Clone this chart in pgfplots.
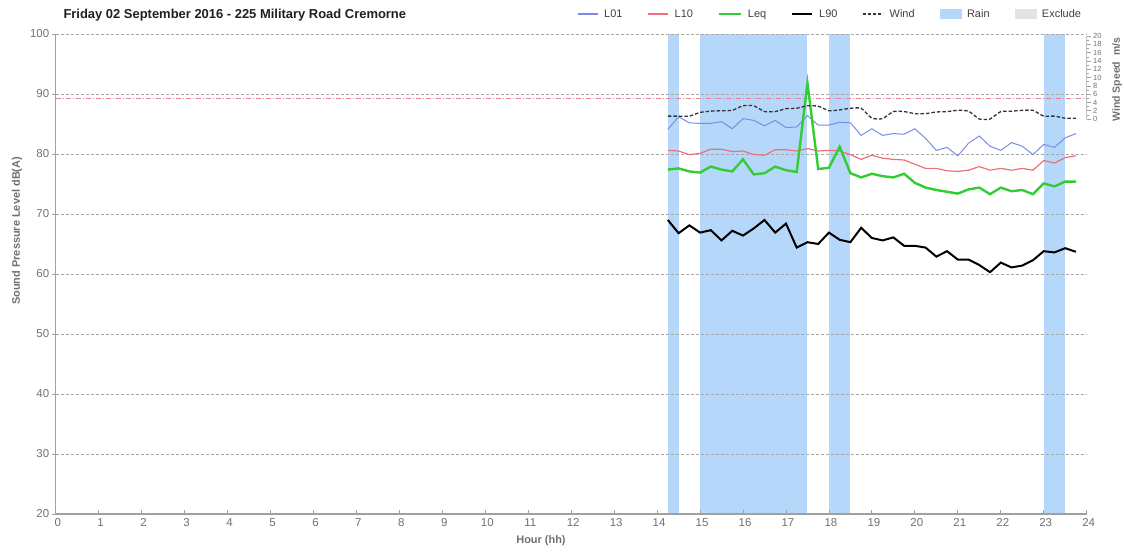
\documentclass[border=0pt]{standalone}
\usepackage{fontspec}
\setmainfont{Liberation Sans}
\usepackage{pgfplots}
\usepackage{pgfplotstable}
\pgfplotsset{compat=1.18}

\definecolor{cL01}{HTML}{7A8CE8}
\definecolor{cL10}{HTML}{EE6F7C}
\definecolor{cLeq}{HTML}{33CC33}
\definecolor{cWind}{HTML}{333333}
\definecolor{rain}{HTML}{B5D8FA}
\definecolor{excl}{HTML}{E3E3E3}
\definecolor{axgray}{HTML}{A0A0A0}
\definecolor{gridgray}{HTML}{A8A8A8}
\definecolor{lblgray}{HTML}{707070}
\definecolor{crit}{HTML}{E88090}

\pgfplotstableread{
t L01 L10 Leq L90 Wind
14.25 84.1 80.6 77.4 69.0 0.7
14.50 86.2 80.5 77.6 66.8 0.7
14.75 85.2 79.9 77.1 68.1 0.7
15.00 85.1 80.1 76.9 66.9 1.6
15.25 85.1 80.8 77.9 67.3 1.9
15.50 85.4 80.8 77.4 65.6 2.0
15.75 84.2 80.4 77.1 67.2 2.1
16.00 85.9 80.5 79.1 66.4 3.2
16.25 85.6 79.9 76.6 67.6 3.2
16.50 84.7 79.8 76.8 69.0 1.8
16.75 85.6 80.7 77.9 66.9 1.8
17.00 84.4 80.7 77.3 68.4 2.5
17.25 84.5 80.5 77.0 64.4 2.6
17.50 86.4 80.9 91.8 65.3 3.2
17.75 84.8 80.5 77.5 65.0 3.1
18.00 84.8 80.6 77.7 66.9 2.0
18.25 85.3 80.5 81.2 65.7 2.2
18.50 85.2 79.9 76.8 65.3 2.6
18.75 83.1 79.1 76.1 67.7 2.6
19.00 84.2 79.8 76.7 66.0 0.2
19.25 83.1 79.3 76.3 65.6 0.1
19.50 83.4 79.1 76.1 66.1 1.8
19.75 83.3 79.0 76.7 64.7 1.8
20.00 84.2 78.3 75.2 64.7 1.3
20.25 82.6 77.6 74.4 64.4 1.3
20.50 80.6 77.6 74.0 62.9 1.7
20.75 81.1 77.2 73.7 63.8 1.8
21.00 79.7 77.1 73.4 62.4 2.1
21.25 81.8 77.3 74.1 62.4 1.9
21.50 83.0 77.9 74.4 61.5 0.0
21.75 81.3 77.3 73.3 60.3 0.0
22.00 80.6 77.6 74.4 61.9 1.8
22.25 81.9 77.3 73.8 61.1 1.9
22.50 81.3 77.6 74.0 61.4 2.1
22.75 79.9 77.3 73.3 62.3 2.1
23.00 81.6 78.9 75.1 63.8 0.7
23.25 81.1 78.5 74.6 63.6 0.7
23.50 82.7 79.4 75.4 64.3 0.2
23.75 83.4 79.7 75.4 63.7 0.2
}\noisedata

\begin{document}
\begin{tikzpicture}
\path[use as bounding box] (0,0) rectangle (1124bp,554bp);

% rain background
\begin{axis}[
  at={(55.7bp,40bp)}, anchor=south west, scale only axis,
  width=1031bp, height=480bp,
  xmin=0, xmax=24, ymin=20, ymax=100, hide axis,
]
\addplot[fill=rain, draw=none] coordinates {(14.25,20) (14.25,100) (14.50,100) (14.50,20)} -- cycle;
\addplot[fill=rain, draw=none] coordinates {(15.00,20) (15.00,100) (17.50,100) (17.50,20)} -- cycle;
\addplot[fill=rain, draw=none] coordinates {(18.00,20) (18.00,100) (18.50,100) (18.50,20)} -- cycle;
\addplot[fill=rain, draw=none] coordinates {(23.00,20) (23.00,100) (23.50,100) (23.50,20)} -- cycle;
\end{axis}

% main axis
\begin{axis}[
  at={(55.7bp,40bp)}, anchor=south west, scale only axis,
  width=1031bp, height=480bp,
  xmin=0, xmax=24, ymin=20, ymax=100,
  axis x line*=bottom, axis y line*=left,
  axis line style={draw=axgray, line width=1.3bp},
  xtick={0,1,...,24}, ytick={20,30,...,100},
  xtick align=inside, ytick align=outside,
  major tick length=4bp,
  tick style={draw=axgray, line width=0.8bp},
  ymajorgrids,
  grid style={draw=gridgray, line width=0.7bp, dash pattern=on 3bp off 2bp},
  /pgf/number format/assume math mode=true,
  tick label style={font=\fontsize{11.5}{13}\selectfont, text=lblgray},
  xticklabel style={yshift=-1bp, xshift=2bp},
  yticklabel style={xshift=1bp},
  xlabel={Hour (hh)},
  ylabel={Sound Pressure Level dB(A)},
  label style={font=\bfseries\fontsize{11}{13}\selectfont, text=lblgray},
  xlabel style={at={(axis description cs:0.4707,-0.056)}, anchor=center},
  ylabel style={at={(axis description cs:-0.0375,0.59)}, anchor=center},
  legend columns=7,
  legend style={draw=none, fill=none, font=\fontsize{11}{12}\selectfont, text=black!75,
    at={(axis description cs:0.9995,1)}, anchor=east, yshift=20bp,
    /tikz/every even column/.append style={column sep=23bp},
    /tikz/every odd column/.append style={column sep=4bp}},
  legend cell align=left,
]
\addplot[crit, line width=0.9bp, dash pattern=on 5bp off 2bp on 1bp off 2bp, forget plot] coordinates {(0,89.3) (24,89.3)};
\addplot[cL01, line width=1bp, forget plot] table[x=t, y=L01] {\noisedata};
\addplot[cL10, line width=1.2bp, forget plot] table[x=t, y=L10] {\noisedata};
\addplot[cLeq, line width=2.4bp, forget plot] table[x=t, y=Leq] {\noisedata};
\addplot[black, line width=2bp, forget plot] table[x=t, y=L90] {\noisedata};

\addlegendimage{legend image code/.code={\draw[cL01, line width=1.2bp] (0bp,0bp) -- (20bp,0bp);}}
\addlegendimage{legend image code/.code={\draw[cL10, line width=1.2bp] (0bp,0bp) -- (20bp,0bp);}}
\addlegendimage{legend image code/.code={\draw[cLeq, line width=2bp] (0bp,0bp) -- (22bp,0bp);}}
\addlegendimage{legend image code/.code={\draw[black, line width=2bp] (0bp,0bp) -- (20bp,0bp);}}
\addlegendimage{legend image code/.code={\draw[cWind, line width=1.2bp, dash pattern=on 3bp off 2bp] (0bp,0bp) -- (20bp,0bp);}}
\addlegendimage{legend image code/.code={\fill[rain] (0bp,-4.5bp) rectangle (21bp,4.5bp);}}
\addlegendimage{legend image code/.code={\fill[excl] (0bp,-4.5bp) rectangle (21bp,4.5bp);}}
\legend{L01,L10,Leq,L90,Wind,Rain,Exclude}
\end{axis}

% wind axis
\begin{axis}[
  at={(55.7bp,40bp)}, anchor=south west, scale only axis,
  width=1031bp, height=480bp,
  xmin=0, xmax=24, ymin=-95.2, ymax=20.5,
  axis x line=none, axis y line*=right,
  y axis line style={draw=none},
  ytick={0,2,...,20}, minor y tick num=1,
  ytick align=outside, yticklabel pos=right,
  major tick length=4bp, minor tick length=2.5bp,
  tick style={draw=axgray, line width=0.6bp},
  /pgf/number format/assume math mode=true,
  yticklabel style={font=\fontsize{7.5}{8}\selectfont, text=lblgray, xshift=-1bp},
  ylabel={Wind Speed\ \ m/s},
  ylabel style={at={(axis description cs:1.0295,0.905)}, anchor=center, rotate=0,
    font=\bfseries\fontsize{10.5}{12}\selectfont, text=lblgray},
]
\draw[axgray, line width=0.8bp] (axis cs:24,0) -- (axis cs:24,20);
\addplot[cWind, line width=1.3bp, dash pattern=on 3.5bp off 2bp, smooth, tension=0.3] table[x=t, y=Wind] {\noisedata};
\end{axis}

\node[anchor=base west, font=\bfseries\fontsize{13}{15}\selectfont, text=black!88] at (60bp,535bp) {Friday 02 September 2016 - 225 Military Road Cremorne};
\end{tikzpicture}
\end{document}
